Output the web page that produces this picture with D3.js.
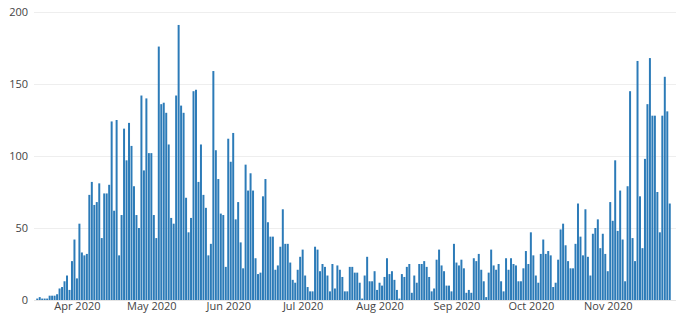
<!DOCTYPE html>
<html><head><meta charset="utf-8">
<script src="https://cdn.jsdelivr.net/npm/d3@7"></script>
<style>body{margin:0;background:#fff}svg{display:block}text{font-family:"Open Sans",sans-serif}</style>
</head><body><svg id="c" width="680" height="323"></svg>
<script>
const startDate = "2020-03-16";
const dailyCounts = [
 1,2,1,1,1,3,3,3,4,8,9,13,17,7,27,42,15,53,33,31,32,
 73,82,66,68,81,43,74,74,80,124,62,125,31,59,119,97,123,107,79,59,50,
 142,90,140,102,102,59,43,176,136,137,130,108,57,53,142,191,135,130,71,47,57,145,146,
 82,108,73,64,31,39,159,104,84,60,59,23,112,96,116,56,68,40,22,94,76,88,76,
 29,18,19,72,84,54,44,44,21,24,37,63,39,39,26,14,12,21,30,35,17,9,
 6,6,37,35,20,25,23,17,6,25,8,24,21,16,6,6,23,23,19,19,12,1,17,30,
 13,13,20,7,12,10,16,29,18,20,14,7,1,18,16,23,25,5,17,12,25,
 25,27,23,16,6,8,28,35,24,20,10,10,6,39,26,24,28,22,5,7,5,29,27,
 32,21,13,2,19,35,24,21,25,13,6,29,21,29,25,24,13,13,22,34,25,47,
 31,17,12,32,42,32,34,31,9,12,28,49,53,38,27,22,22,39,67,44,31,63,30,
 17,46,50,56,36,46,32,20,68,55,97,48,76,42,13,79,145,43,27,166,
 72,36,98,136,168,128,128,75,47,128,155,131,67
];
const yTicks = [0,50,100,150,200];
const xTickLabels = ["Apr 2020","May 2020","Jun 2020","Jul 2020","Aug 2020","Sep 2020","Oct 2020","Nov 2020"];
const xTickDates = ["2020-04-01","2020-05-01","2020-06-01","2020-07-01","2020-08-01","2020-09-01","2020-10-01","2020-11-01"];

const DAY = 864e5;
const t0 = Date.parse(startDate+"T00:00:00Z");
const data = dailyCounts.map((v,i)=>({date:new Date(t0+i*DAY), v}));
const svg = d3.select("#c");
const x = d3.scaleUtc()
  .domain([new Date(t0-0.5*DAY), new Date(t0+(dailyCounts.length-0.5)*DAY)])
  .range([36, 671]);
const y = d3.scaleLinear().domain([0,200]).range([300,12]);
const bw = (x(new Date(t0+DAY))-x(new Date(t0)))*0.8;

const grid = svg.append("g");
grid.selectAll("line").data(yTicks).join("line")
  .attr("x1",34).attr("x2",676)
  .attr("y1",d=>y(d)+0.5).attr("y2",d=>y(d)+0.5)
  .attr("stroke",d=>d===0?"#e4e4e4":"#eeeeee").attr("stroke-width",1);

const yAxis = d3.axisLeft(y).tickValues(yTicks).tickSize(0).tickPadding(0);
svg.append("g").attr("transform","translate(28,0)").call(yAxis)
  .call(g=>g.select(".domain").remove())
  .call(g=>g.selectAll("text").attr("font-size",11).attr("fill","#444").attr("font-family","'Open Sans',sans-serif"));

svg.append("g").selectAll("rect").data(data).join("rect")
  .attr("x",d=>x(d.date)-bw/2).attr("width",bw)
  .attr("y",d=>y(d.v)).attr("height",d=>y(0)-y(d.v))
  .attr("fill","#2c7bb8");

const xAxis = d3.axisBottom(x)
  .tickValues(xTickDates.map(s=>new Date(Date.parse(s+"T00:00:00Z"))))
  .tickFormat((d,i)=>xTickLabels[i]).tickSize(0).tickPadding(0);
svg.append("g").attr("transform","translate(0,302)").call(xAxis)
  .call(g=>g.select(".domain").remove())
  .call(g=>g.selectAll("text").attr("font-size",11).attr("fill","#444").attr("font-family","'Open Sans',sans-serif"));
</script></body></html>
